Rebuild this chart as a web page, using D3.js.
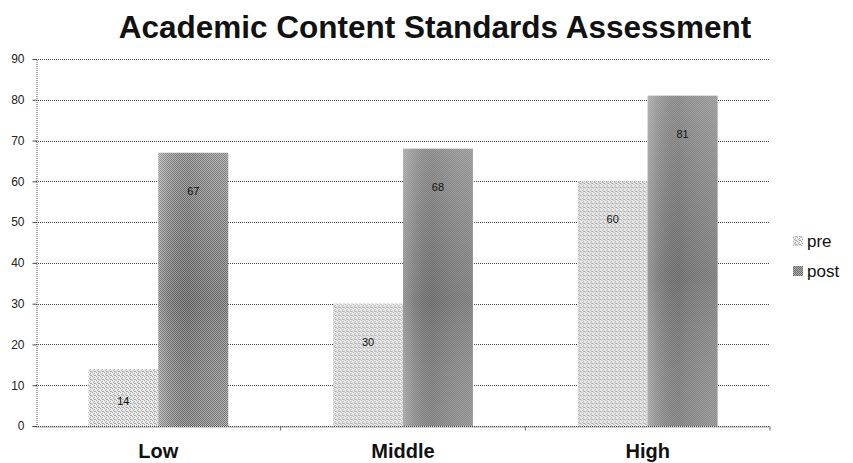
<!DOCTYPE html>
<html>
<head>
<meta charset="utf-8">
<script src="https://cdn.jsdelivr.net/npm/d3@7"></script>
<style>
  html, body { margin: 0; padding: 0; background: #fff; }
  svg { display: block; font-family: "Liberation Sans", Arial, sans-serif; }
</style>
</head>
<body>
<svg id="chart" width="853" height="463"></svg>
<script>
// Chart data
const categories = ["Low", "Middle", "High"];
const seriesNames = ["pre", "post"];
const preValues = [14, 30, 60];
const postValues = [67, 68, 81];
const yTickValues = [0, 10, 20, 30, 40, 50, 60, 70, 80, 90];
const titleText = "Academic Content Standards Assessment";

const W = 853, H = 463;
const margin = { top: 59, right: 83, bottom: 37, left: 36 };
const svg = d3.select("#chart");

// Textured fills
const defs = svg.append("defs");

const prePat = defs.append("pattern")
  .attr("id", "prePat").attr("patternUnits", "userSpaceOnUse")
  .attr("width", 4).attr("height", 4);
prePat.append("rect").attr("width", 4).attr("height", 4).attr("fill", "#e9e9e9");
[[0,0],[2,1],[1,2],[3,3],[2,3]].forEach(([px,py]) =>
  prePat.append("rect").attr("x", px).attr("y", py).attr("width", 1).attr("height", 1).attr("fill", "#a9a9a9"));
prePat.append("rect").attr("x", 3).attr("y", 1).attr("width", 1).attr("height", 1).attr("fill", "#ffffff");

const postPat = defs.append("pattern")
  .attr("id", "postPat").attr("patternUnits", "userSpaceOnUse")
  .attr("width", 2).attr("height", 2);
postPat.append("rect").attr("width", 2).attr("height", 2).attr("fill", "#b0b0b0");
postPat.append("rect").attr("x", 0).attr("y", 0).attr("width", 1).attr("height", 1).attr("fill", "#6a6a6a");
postPat.append("rect").attr("x", 1).attr("y", 1).attr("width", 1).attr("height", 1).attr("fill", "#6a6a6a");

// shading across the post bars: lighter at left edge, darker toward the middle
const shadeH = defs.append("linearGradient").attr("id", "postShadeH")
  .attr("x1", 0).attr("x2", 1).attr("y1", 0).attr("y2", 0);
shadeH.append("stop").attr("offset", "0%").attr("stop-color", "#fff").attr("stop-opacity", 0.25);
shadeH.append("stop").attr("offset", "45%").attr("stop-color", "#000").attr("stop-opacity", 0.08);
shadeH.append("stop").attr("offset", "100%").attr("stop-color", "#fff").attr("stop-opacity", 0.05);

const shadeV = defs.append("linearGradient").attr("id", "postShadeV")
  .attr("x1", 0).attr("x2", 0).attr("y1", 0).attr("y2", 1);
shadeV.append("stop").attr("offset", "0%").attr("stop-color", "#fff").attr("stop-opacity", 0.12);
shadeV.append("stop").attr("offset", "55%").attr("stop-color", "#000").attr("stop-opacity", 0.1);
shadeV.append("stop").attr("offset", "100%").attr("stop-color", "#fff").attr("stop-opacity", 0.05);

const fills = { pre: "url(#prePat)", post: "url(#postPat)" };

// Scales
const x0 = d3.scaleBand().domain(categories)
  .range([margin.left, W - margin.right]).paddingInner(0).paddingOuter(0);
const gapRatio = 1.5; // gap between clusters as a fraction of bar width
const barW = x0.bandwidth() / (seriesNames.length + gapRatio);
const x1 = d3.scaleBand().domain(seriesNames)
  .range([barW * gapRatio / 2, x0.bandwidth() - barW * gapRatio / 2]).padding(0);
const y = d3.scaleLinear().domain([0, 90]).range([H - margin.bottom, margin.top]);

// Gridlines
const grid = svg.append("g").attr("class", "grid");
grid.selectAll("line").data(yTickValues).join("line")
  .attr("x1", margin.left).attr("x2", W - margin.right)
  .attr("y1", d => Math.round(y(d)) + 0.5).attr("y2", d => Math.round(y(d)) + 0.5)
  .attr("stroke", "#4a4a4a").attr("stroke-width", 1).attr("stroke-dasharray", "1,1");

// Y axis
const yAxis = svg.append("g")
  .attr("transform", `translate(${margin.left + 0.5},0)`)
  .call(d3.axisLeft(y).tickValues(yTickValues).tickSize(4).tickPadding(8).tickFormat(d3.format("d")));
yAxis.select(".domain").attr("stroke", "#4a4a4a").attr("stroke-dasharray", "1,1");
yAxis.selectAll(".tick line").attr("stroke", "#4a4a4a");
yAxis.selectAll(".tick text").attr("font-size", 12).attr("fill", "#222")
  .attr("font-family", "'Liberation Sans', Arial, sans-serif");

// Bars
const rows = categories.map((c, i) => ({ cat: c, pre: preValues[i], post: postValues[i] }));
const groups = svg.append("g").selectAll("g").data(rows).join("g")
  .attr("transform", d => `translate(${x0(d.cat)},0)`);

const bars = groups.selectAll("g.bar")
  .data(d => seriesNames.map(s => ({ s, v: d[s] })))
  .join("g").attr("class", "bar");

bars.append("rect")
  .attr("x", d => x1(d.s)).attr("width", x1.bandwidth())
  .attr("y", d => y(d.v)).attr("height", d => y(0) - y(d.v))
  .attr("fill", d => fills[d.s]);

bars.filter(d => d.s === "post").append("rect")
  .attr("x", d => x1(d.s)).attr("width", x1.bandwidth())
  .attr("y", d => y(d.v)).attr("height", d => y(0) - y(d.v))
  .attr("fill", "url(#postShadeH)");
bars.filter(d => d.s === "post").append("rect")
  .attr("x", d => x1(d.s)).attr("width", x1.bandwidth())
  .attr("y", d => y(d.v)).attr("height", d => y(0) - y(d.v))
  .attr("fill", "url(#postShadeV)");

// Value labels inside the bars, near the top
bars.append("text")
  .attr("x", d => x1(d.s) + x1.bandwidth() / 2)
  .attr("y", d => y(d.v) + Math.min(38, (y(0) - y(d.v)) * 0.57))
  .attr("text-anchor", "middle").attr("dominant-baseline", "central")
  .attr("font-size", 11).attr("fill", "#111")
  .text(d => d.v);

// X axis
const xAxis = svg.append("g")
  .attr("transform", `translate(0,${Math.round(y(0)) + 0.5})`)
  .call(d3.axisBottom(x0).tickSize(0).tickPadding(17));
xAxis.select(".domain").attr("stroke", "#4a4a4a").attr("stroke-dasharray", "1,1");
xAxis.selectAll(".tick text").attr("font-size", 20).attr("font-weight", "bold")
  .attr("fill", "#111").attr("font-family", "'Liberation Sans', Arial, sans-serif");
// small marks at the category boundaries
xAxis.selectAll("line.sep").data(categories.slice(1).concat(["__end"])).join("line")
  .attr("class", "sep")
  .attr("x1", d => d === "__end" ? W - margin.right : x0(d))
  .attr("x2", d => d === "__end" ? W - margin.right : x0(d))
  .attr("y1", 0).attr("y2", 4)
  .attr("stroke", "#666");

// Title
svg.append("text")
  .attr("x", 435).attr("y", 38)
  .attr("text-anchor", "middle")
  .attr("font-size", 31.5).attr("font-weight", "bold").attr("fill", "#111")
  .text(titleText);

// Legend
const legend = svg.append("g").attr("transform", `translate(${W - margin.right + 23},0)`);
const legendItems = legend.selectAll("g").data(seriesNames).join("g")
  .attr("transform", (d, i) => `translate(0,${241 + i * 30})`);
legendItems.append("rect")
  .attr("x", 0).attr("y", -5).attr("width", 10).attr("height", 10)
  .attr("fill", d => fills[d]);
legendItems.append("text")
  .attr("x", 14).attr("y", 0).attr("dominant-baseline", "central")
  .attr("font-size", 17).attr("fill", "#111")
  .text(d => d);
</script>
</body>
</html>
